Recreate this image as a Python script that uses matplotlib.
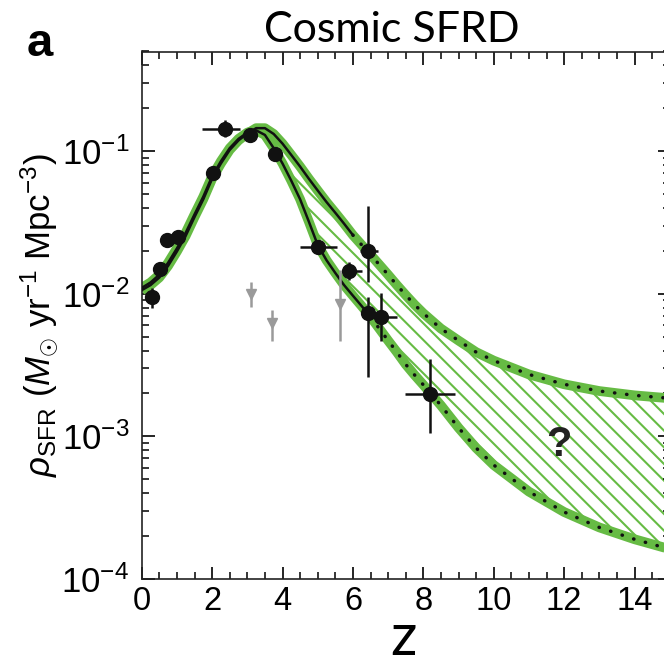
import matplotlib
matplotlib.use('Agg')
import matplotlib.pyplot as plt
from matplotlib.ticker import MultipleLocator, LogLocator, NullFormatter

plt.rcParams['font.family'] = ['Liberation Sans', 'DejaVu Sans']
plt.rcParams['mathtext.fontset'] = 'custom'
plt.rcParams['mathtext.rm'] = 'Liberation Sans'
plt.rcParams['mathtext.it'] = 'Liberation Sans:italic'
plt.rcParams['mathtext.bf'] = 'Liberation Sans:bold'
plt.rcParams['hatch.linewidth'] = 1.5

# model curves
z_model = [0, 0.25, 0.5, 0.75, 1.0, 1.25, 1.5, 1.75, 2.0, 2.25, 2.5, 2.75, 3.0, 3.25, 3.5,
           3.75, 4.0, 4.25, 4.5, 4.75, 5.0, 5.25, 5.5, 5.75, 6.0, 6.25, 6.5, 6.75, 7.0,
           7.25, 7.5, 7.75, 8.0, 8.5, 9.0, 9.5, 10.0, 11.0, 12.0, 13.0, 14.0, 15.0]
sfrd_upper = [0.0106, 0.0115, 0.0130, 0.0157, 0.0198, 0.0255, 0.0345, 0.0460, 0.0640, 0.0820,
              0.1020, 0.1190, 0.1330, 0.1450, 0.1450, 0.1320, 0.1130, 0.0940, 0.0780, 0.0640,
              0.0530, 0.0440, 0.0370, 0.0310, 0.0258, 0.0220, 0.0188, 0.0160, 0.0136, 0.0115,
              0.0098, 0.0084, 0.0073, 0.0057, 0.0047, 0.0039, 0.0034, 0.00272, 0.00232,
              0.00208, 0.00194, 0.00185]
sfrd_lower = [0.0110, 0.0120, 0.0136, 0.0165, 0.0208, 0.0268, 0.0360, 0.0480, 0.0665, 0.0850,
              0.1050, 0.1220, 0.1350, 0.1400, 0.1300, 0.1050, 0.0820, 0.0620, 0.0460, 0.0320,
              0.0220, 0.0172, 0.0140, 0.0115, 0.0097, 0.0082, 0.0069, 0.0057, 0.0047, 0.0039,
              0.0032, 0.0027, 0.0023, 0.00165, 0.00115, 0.00083, 0.00063, 0.00041, 0.000295,
              0.000230, 0.000190, 0.000162]
z_solid_upper = 6.0
z_solid_lower = 6.5

# measurements
obs_z = [0.28, 0.52, 0.71, 1.04, 2.03, 2.37, 3.08, 3.79, 5.02, 5.90, 6.44, 6.44, 6.80, 8.19]
obs_z_lo = [0.22, 0.46, 0.62, 0.96, 1.96, 1.70, 3.00, 3.70, 4.50, 5.68, 6.20, 6.30, 6.49, 7.48]
obs_z_hi = [0.34, 0.58, 0.82, 1.14, 2.10, 2.80, 3.18, 3.90, 5.54, 6.25, 6.72, 6.60, 7.24, 8.90]
obs_sfrd = [0.0095, 0.0150, 0.0240, 0.0250, 0.0700, 0.1420, 0.1290, 0.0960, 0.0213, 0.0145,
            0.0200, 0.0073, 0.0069, 0.00197]
obs_sfrd_lo = [0.0079, 0.0138, 0.0222, 0.0232, 0.0650, 0.1250, 0.1200, 0.0880, 0.0195, 0.0125,
               0.0120, 0.0026, 0.0047, 0.00106]
obs_sfrd_hi = [0.0110, 0.0163, 0.0260, 0.0270, 0.0760, 0.1650, 0.1390, 0.1050, 0.0235, 0.0168,
               0.0410, 0.0095, 0.0101, 0.00347]

# grey upper limits
lim_z = [3.10, 3.71, 5.63]
lim_sfrd = [0.0100, 0.0062, 0.0085]
lim_top = [0.0121, 0.0077, 0.0146]
lim_bottom = [0.0081, 0.0047, 0.0047]

green = '#66bb44'
grey = '#9a9a9a'

fig = plt.figure(figsize=(6.64, 6.66), dpi=100)
ax = fig.add_axes([141.7 / 664, 1 - 579 / 666, 528 / 664, 527.5 / 666])

ax.fill_between(z_model, sfrd_lower, sfrd_upper, facecolor='none', edgecolor=green,
                hatch='\\\\', linewidth=0, zorder=1)

for curve, z_cut in [(sfrd_upper, z_solid_upper), (sfrd_lower, z_solid_lower)]:
    ax.plot(z_model, curve, color=green, lw=7, solid_capstyle='butt', zorder=2)
    zs = [z for z in z_model if z <= z_cut]
    ys = curve[:len(zs)]
    zd = z_model[len(zs) - 1:]
    yd = curve[len(zs) - 1:]
    ax.plot(zs, ys, color='#111111', lw=1.8, zorder=3)
    ax.plot(zd, yd, color='#111111', lw=2.5, linestyle=(0, (0.1, 3.4)),
            dash_capstyle='round', zorder=3)

xerr = [[z - lo for z, lo in zip(obs_z, obs_z_lo)], [hi - z for z, hi in zip(obs_z, obs_z_hi)]]
yerr = [[y - lo for y, lo in zip(obs_sfrd, obs_sfrd_lo)], [hi - y for y, hi in zip(obs_sfrd, obs_sfrd_hi)]]
ax.errorbar(obs_z, obs_sfrd, xerr=xerr, yerr=yerr, fmt='o', color='#111111', ms=10,
            elinewidth=1.8, capsize=0, zorder=5)

ax.vlines(lim_z, lim_bottom, lim_top, color=grey, lw=1.8, zorder=4)
ax.plot(lim_z, lim_sfrd, 'v', color=grey, ms=7, zorder=4)

ax.text(11.85, 0.00087, '?', fontsize=30, fontweight='bold', ha='center', va='center',
        color='#222222')

ax.set_yscale('log')
ax.set_xlim(0, 15)
ax.set_ylim(1e-4, 0.5)

ax.xaxis.set_major_locator(MultipleLocator(2))
ax.xaxis.set_minor_locator(MultipleLocator(0.5))
ax.set_yticks([1e-4, 1e-3, 1e-2, 1e-1])
ax.set_yticklabels([r'$\mathregular{10^{-4}}$', r'$\mathregular{10^{-3}}$',
                    r'$\mathregular{10^{-2}}$', r'$\mathregular{10^{-1}}$'])
ax.yaxis.set_minor_locator(LogLocator(base=10, subs=(2, 3, 4, 5, 6, 7, 8, 9), numticks=20))
ax.yaxis.set_minor_formatter(NullFormatter())

ax.tick_params(which='both', direction='in', top=True, right=True, bottom=True, left=True,
               color='black')
ax.tick_params(which='major', length=9, width=1.2)
ax.tick_params(which='minor', length=5, width=1.1)
ax.tick_params(axis='x', labelsize=23.5, pad=5)
ax.tick_params(axis='y', labelsize=25, pad=9)
for s in ax.spines.values():
    s.set_linewidth(1.2)
    s.set_color('#222222')

ax.set_ylabel(r'$\rho_{\mathrm{SFR}}$ ($M_{\odot}$ yr$^{-1}$ Mpc$^{-3}$)', fontsize=25)
ax.yaxis.set_label_coords(-0.155, 0.5)

fig.text(392 / 664, 1 - 30 / 666, 'Cosmic SFRD', fontsize=31, family='Lato',
         ha='center', va='center')
fig.text(403 / 664, 1 - 655 / 666, 'z', fontsize=42, family='Lato', ha='center',
         va='baseline')
fig.text(40 / 664, 1 - 44 / 666, 'a', fontsize=34, fontweight='bold', ha='center',
         va='center')

fig.savefig('out.png', dpi=100)
